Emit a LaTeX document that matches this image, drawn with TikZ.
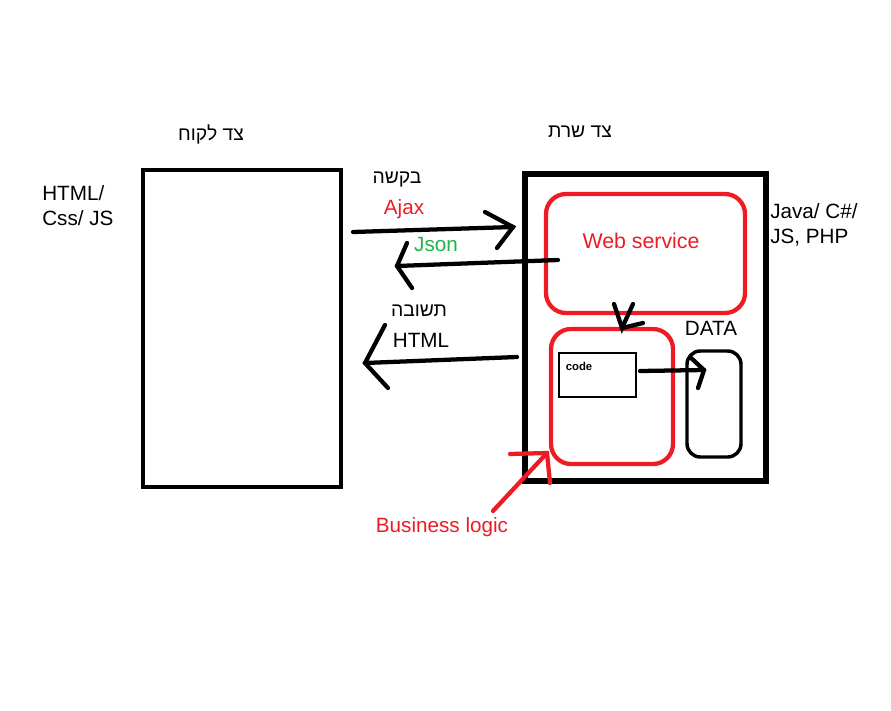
\documentclass[tikz,border=0pt]{standalone}
\usepackage{fontspec}
\setmainfont{Liberation Sans}
\newfontfamily\hebfont[Script=Hebrew]{Liberation Sans}
\TeXXeTstate=1
\definecolor{pred}{RGB}{237,28,36}
\definecolor{pgreen}{RGB}{34,177,76}
\begin{document}
\begin{tikzpicture}[x=0.75pt,y=-0.75pt,
  blk/.style={draw=black,line width=3.4pt},
  redbox/.style={draw=pred,line width=3.2pt,rounded corners=15pt},
  stroke/.style={line width=3.2pt,line cap=round,draw=black},
  rstroke/.style={line width=3.2pt,line cap=round,draw=pred},
  lbl/.style={inner sep=0pt,font=\fontsize{15.5}{18.75}\selectfont,anchor=center},
  heb/.style={inner sep=0pt,font=\hebfont\fontsize{14.5}{17}\selectfont,anchor=center}]
\useasboundingbox (0,0) rectangle (891,710);
% boxes
\draw[blk] (143,170) rectangle (341,487);
\node[inner sep=0pt] (client) at (242,328) {};
\draw[blk,line width=3.8pt] (525,174) rectangle (766,481);
\draw[redbox] (546,194) rectangle (745,313);
\node (ws) at (641,241) [lbl,text=pred,font=\fontsize{16}{18}\selectfont] {Web service};
\draw[redbox] (551,329) rectangle (673,464);
\draw[draw=black,line width=1.6pt] (559,353) rectangle (636,397);
\node (code) at (579,366) [inner sep=0pt,font=\bfseries\fontsize{8.5}{10}\selectfont] {code};
\draw[draw=black,line width=2.6pt,rounded corners=10pt] (687,351) rectangle (741,457);
\node (data) at (711,328) [lbl] {DATA};
% labels
\node (cl) at (211,134) [heb] {\beginR צד לקוח\endR};
\node (sl) at (580,132) [heb] {\beginR צד שרת\endR};
\node (req) at (397,180) [heb] {\beginR בקשה\endR};
\node (ajax) at (404,209) [lbl,text=pred] {Ajax};
\node (json) at (436,244) [lbl,text=pgreen] {Json};
\node (resp) at (419,311) [heb] {\beginR תשובה\endR};
\node (html) at (421,340) [lbl] {HTML};
\node (left) at (42,206) [lbl,anchor=west,align=left] {HTML/\\Css/ JS};
\node (right) at (770,225) [lbl,anchor=west,align=left] {Java/ C\#/\\JS, PHP};
\node (bl) at (442,527) [lbl,text=pred] {Business logic};
% arrows
\coordinate (a1) at (353,232); \coordinate (a2) at (513,227);
\draw[stroke] (a1) -- (a2);
\draw[stroke] (485,212) -- (a2) -- (497,248);
\coordinate (j1) at (558,260); \coordinate (j2) at (397,266);
\draw[stroke] (j1) -- (j2);
\draw[stroke] (407,243) -- (j2) -- (412,288);
\coordinate (h1) at (517,357); \coordinate (h2) at (365,363);
\draw[stroke] (h1) -- (h2);
\draw[stroke] (385,325) -- (h2) -- (388,388);
\coordinate (d1) at (622,328);
\draw[stroke] (614,304) -- (d1) -- (633,304);
\draw[stroke] (d1) -- (643,323);
\coordinate (c1) at (640,371); \coordinate (c2) at (704,370);
\draw[stroke] (c1) -- (c2);
\draw[stroke] (690,357) -- (c2) -- (698,388);
\coordinate (b1) at (493,511); \coordinate (b2) at (547,453);
\draw[rstroke] (b1) -- (b2);
\draw[rstroke] (510,454) -- (b2) -- (550,483);
\end{tikzpicture}
\end{document}
